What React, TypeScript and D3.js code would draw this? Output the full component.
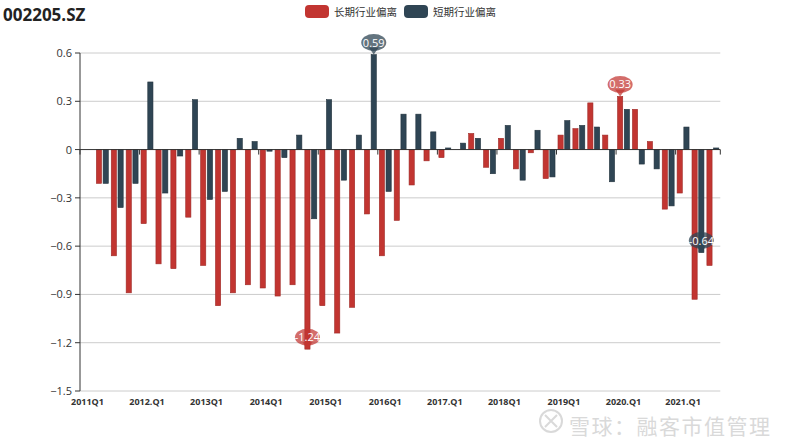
import React from 'react';
import * as d3 from 'd3';

const categories = [
  '2011Q1', '2011Q2', '2011Q3', '2011Q4',
  '2012.Q1', '2012Q2', '2012Q3', '2012Q4',
  '2013Q1', '2013Q2', '2013Q3', '2013Q4',
  '2014Q1', '2014Q2', '2014Q3', '2014Q4',
  '2015Q1', '2015Q2', '2015Q3', '2015Q4',
  '2016Q1', '2016Q2', '2016Q3', '2016Q4',
  '2017.Q1', '2017Q2', '2017Q3', '2017Q4',
  '2018Q1', '2018Q2', '2018Q3', '2018Q4',
  '2019Q1', '2019Q2', '2019Q3', '2019Q4',
  '2020.Q1', '2020Q2', '2020Q3', '2020Q4',
  '2021.Q1', '2021Q2', '2021Q3',
];

// 长期行业偏离
const longDev: (number | null)[] = [
  null, -0.21, -0.66, -0.89, -0.46, -0.71, -0.74, -0.42, -0.72, -0.97, -0.89,
  -0.84, -0.86, -0.91, -0.84, -1.24, -0.97, -1.14, -0.98, -0.40, -0.66, -0.44,
  -0.22, -0.07, -0.05, 0.0, 0.10, -0.11, 0.07, -0.12, -0.02, -0.18, 0.09,
  0.13, 0.29, 0.09, 0.33, 0.25, 0.05, -0.37, -0.27, -0.93, -0.72,
];

// 短期行业偏离
const shortDev: (number | null)[] = [
  null, -0.21, -0.36, -0.21, 0.42, -0.27, -0.04, 0.31, -0.31, -0.26, 0.07,
  0.05, -0.01, -0.05, 0.09, -0.43, 0.31, -0.19, 0.09, 0.59, -0.26, 0.22,
  0.22, 0.11, 0.01, 0.04, 0.07, -0.15, 0.15, -0.19, 0.12, -0.17, 0.18,
  0.15, 0.14, -0.20, 0.25, -0.09, -0.12, -0.35, 0.14, -0.64, 0.01,
];

const yTicks = [0.6, 0.3, 0, -0.3, -0.6, -0.9, -1.2, -1.5];

const series = [
  { key: 'long', name: '长期行业偏离', color: '#c23531', stroke: '#9e2a27', pin: 'rgba(194,53,49,0.72)', data: longDev },
  { key: 'short', name: '短期行业偏离', color: '#2f4554', stroke: '#22323d', pin: 'rgba(47,69,84,0.75)', data: shortDev },
];

const W = 800;
const H = 444;
const FONT = '"Open Sans", "Noto Sans CJK SC", sans-serif';

function Pin({ x, y, label, fill }: { x: number; y: number; label: string; fill: string }) {
  const cy = y - 12;
  return (
    <g>
      <path
        d={`M${x - 5},${cy + 5} L${x},${y} L${x + 5},${cy + 5} Z`}
        fill={fill}
      />
      <ellipse cx={x} cy={cy} rx={12.5} ry={8.5} fill={fill} />
      <text x={x} y={cy + 4} textAnchor="middle" fill="#fff" fontSize={11} fontFamily={FONT}>
        {label}
      </text>
    </g>
  );
}

export default function App() {
  const left = 80;
  const right = 720.3;
  const top = 53;
  const bottom = 391;

  const x = d3.scaleBand<string>().domain(categories).range([left, right]).padding(0);
  const sub = d3.scaleBand<string>()
    .domain(series.map(s => s.key))
    .range([0, x.bandwidth()])
    .paddingInner(0.23)
    .paddingOuter(0.22);
  const y = d3.scaleLinear().domain([-1.5, 0.6]).range([bottom, top]);

  const pins: { x: number; y: number; label: string; fill: string }[] = [];
  series.forEach(s => {
    const vals = s.data.map(v => (v == null ? NaN : v));
    const iMax = d3.maxIndex(vals);
    const iMin = d3.minIndex(vals);
    [iMax, iMin].forEach(i => {
      const v = vals[i];
      pins.push({
        x: x(categories[i])! + sub(s.key)! + sub.bandwidth() / 2,
        y: y(v),
        label: String(v),
        fill: s.pin,
      });
    });
  });

  const tickIdx = categories.map((_, i) => i).filter(i => i % 4 === 0);

  return (
    <svg width={W} height={H} style={{ position: 'absolute', left: 0, top: 0, background: '#fff' }} fontFamily={FONT}>
      <text x={3} y={21} fontSize={17} fontWeight="bold" fill="#222">002205.SZ</text>

      {/* legend */}
      {series.map((s, i) => (
        <g key={s.key} transform={`translate(${305 + i * 99},5)`}>
          <rect width={24} height={13} rx={4} fill={s.color} />
          <text x={29} y={11} fontSize={10.5} fill="#333">{s.name}</text>
        </g>
      ))}

      {/* grid */}
      {yTicks.map(t => (
        <g key={t}>
          {t !== 0 && <line x1={left} x2={right} y1={y(t)} y2={y(t)} stroke="#ccc" />}
          <line x1={left - 5} x2={left} y1={y(t)} y2={y(t)} stroke="#333" />
          <text x={left - 8} y={y(t) + 4} textAnchor="end" fontSize={11} fill="#333">
            {t === 0 ? '0' : d3.format('.1f')(t)}
          </text>
        </g>
      ))}
      <line x1={left} x2={left} y1={top} y2={bottom} stroke="#333" />

      {/* bars */}
      {series.map(s => (
        <g key={s.key}>
          {s.data.map((v, i) =>
            v == null || v === 0 ? null : (
              <rect
                key={i}
                x={x(categories[i])! + sub(s.key)!}
                width={sub.bandwidth()}
                y={Math.min(y(v), y(0))}
                height={Math.abs(y(v) - y(0))}
                fill={s.color}
                stroke={s.stroke}
                strokeWidth={0.6}
              />
            )
          )}
        </g>
      ))}

      {/* zero axis */}
      <line x1={left} x2={right} y1={y(0)} y2={y(0)} stroke="#333" />
      {[...tickIdx.map(i => x(categories[i])!), right].map((tx, i) => (
        <line key={i} x1={tx} x2={tx} y1={y(0)} y2={y(0) + 5} stroke="#333" />
      ))}

      {/* category labels */}
      {tickIdx.map(i => (
        <text
          key={i}
          x={x(categories[i])! + x.bandwidth() / 2}
          y={405}
          textAnchor="middle"
          fontSize={9}
          fontWeight="bold"
          fill="#333"
        >
          {categories[i]}
        </text>
      ))}

      {pins.map((p, i) => <Pin key={i} {...p} />)}

      {/* watermark */}
      <g opacity={0.55}>
        <circle cx={551} cy={421} r={11} fill="none" stroke="#bbb" strokeWidth={2} />
        <path d="M545,415 L551,421 L545,427 M557,415 L551,421 L557,427" fill="none" stroke="#bbb" strokeWidth={2} />
        <text x={569} y={434} fontSize={21} fill="#bbb" fontFamily='"Noto Sans CJK SC", sans-serif' letterSpacing={1.5}>
          雪球：融客市值管理
        </text>
      </g>
    </svg>
  );
}
